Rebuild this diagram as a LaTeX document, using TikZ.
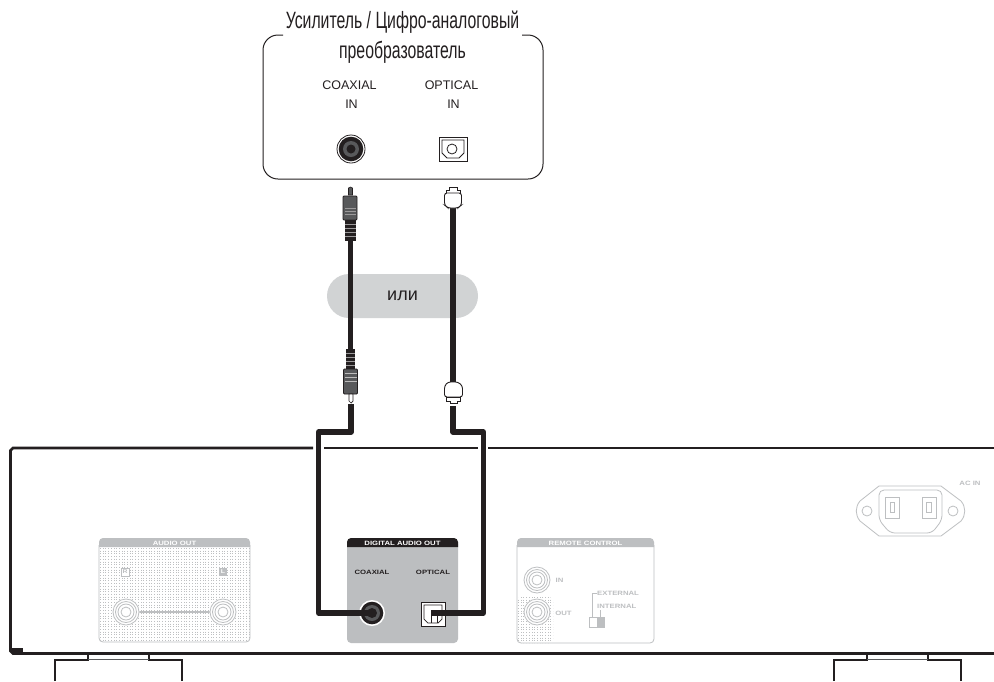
\documentclass[tikz,border=0pt]{standalone}
\usepackage{fontspec}
\setmainfont{Liberation Sans}
\newfontfamily\narrowfont[FakeStretch=0.67]{Liberation Sans}
\newfontfamily\widefont[FakeStretch=1.25]{Liberation Sans}
\definecolor{ink}{HTML}{231F20}
\definecolor{panelgray}{HTML}{BCBEC0}
\definecolor{softgray}{HTML}{D1D3D4}
\definecolor{faint}{HTML}{BDBFC1}
\definecolor{darkplug}{HTML}{58595B}
\tikzset{
  cablewire/.style={draw=ink,line width=5.4pt,line join=round},
  chassisline/.style={draw=ink,line width=2.6pt},
  footline/.style={draw=ink,line width=2pt},
  faintline/.style={draw=faint,line width=0.8pt},
  paneltitle/.style={font=\widefont\bfseries\fontsize{6.2}{6.2}\selectfont,text=white,inner sep=0pt},
  darklabel/.style={font=\widefont\bfseries\fontsize{6.2}{6.2}\selectfont,text=ink,inner sep=0pt},
  faintlabel/.style={font=\widefont\bfseries\fontsize{6.2}{6.2}\selectfont,text=faint,inner sep=0pt},
  inputlabel/.style={font=\fontsize{12.5}{12.5}\selectfont,text=ink,inner sep=0pt},
  titlelabel/.style={font=\narrowfont\fontsize{23.6}{23.6}\selectfont,text=ink,inner sep=0pt,anchor=base},
}
\begin{document}
\begin{tikzpicture}[x=1pt,y=-1pt,line cap=butt]
\useasboundingbox (0,0) rectangle (994,681);
\fill[white] (0,0) rectangle (994,681);

% --- receiver box
\draw[ink,line width=1pt,rounded corners=15pt] (283,35) -- (263,35) -- (263,179) -- (543,179) -- (543,35) -- (522,35);
\node[titlelabel] (titleone) at (402.5,28) {Усилитель / Цифро-аналоговый};
\node[titlelabel] (titletwo) at (402.5,58) {преобразователь};
\node[inputlabel] at (349.5,85) {COAXIAL};
\node[inputlabel] at (351.5,104) {IN};
\node[inputlabel] at (451.5,85) {OPTICAL};
\node[inputlabel] at (453.5,104) {IN};
% coaxial in jack
\coordinate (coaxin) at (351,149);
\draw[ink,line width=0.8pt] (coaxin) circle[radius=14];
\fill[ink] (coaxin) circle[radius=12.3];
\fill[darkplug] (coaxin) circle[radius=8];
\fill[ink] (coaxin) circle[radius=4.5];
% optical in jack
\draw[ink,line width=0.9pt] (439,137) rectangle (467,161);
\draw[ink,line width=0.8pt] (442,140) -- (464,140) -- (464,153) -- (459,158) -- (447,158) -- (442,153) -- cycle;
\draw[ink,line width=0.8pt] (452,149) circle[radius=5];

% --- "or" pill
\node[fill=softgray,rounded corners=22pt,minimum width=151pt,minimum height=44pt,inner sep=0pt,
      font=\fontsize{18}{18}\selectfont,text=ink] (orpill) at (402.5,296) {или};

% --- chassis
\draw[chassisline] (313,448) -- (13,448) -- (10.5,450.5) -- (10.5,651) -- (13,653.5) -- (994,653.5);
\draw[chassisline] (324,448) -- (478,448);
\draw[chassisline] (488,448) -- (994,448);
\fill[ink] (11,648) rectangle (23,653);
% feet
\draw[footline] (55,681) -- (55,659.5) -- (88,659.5) -- (88,653.5);
\draw[footline] (182,681) -- (182,659.5) -- (149,659.5) -- (149,653.5);
\draw[darkplug,line width=0.8pt] (88,659.5) -- (149,659.5);
\draw[footline] (834,681) -- (834,659.5) -- (867,659.5) -- (867,653.5);
\draw[footline] (961,681) -- (961,659.5) -- (928,659.5) -- (928,653.5);
\draw[darkplug,line width=0.8pt] (867,659.5) -- (928,659.5);

% --- audio out panel
\fill[faint] (99,547) [rounded corners=4pt] -- (99,538) -- (250,538) [sharp corners] -- (250,547) -- cycle;
\begin{scope}
\clip[rounded corners=4pt] (99,540) rectangle (250,642);
\foreach \i in {0,...,55}{\draw[faint,line width=1pt,dash pattern=on 1pt off 1.7pt] (100.5+\i*2.7,548) -- (100.5+\i*2.7,642);}
\end{scope}
\draw[faintline,rounded corners=4pt] (99,545) -- (99,642) -- (250,642) -- (250,545);
\node[paneltitle] at (174.5,543) {AUDIO OUT};
\node[fill=white,draw=faint,line width=0.8pt,minimum size=8pt,inner sep=0pt,font=\widefont\bfseries\fontsize{5.5}{5.5}\selectfont,text=faint] (rlabel) at (125,572) {R};
\node[fill=faint,minimum size=8pt,inner sep=0pt,font=\widefont\bfseries\fontsize{5.5}{5.5}\selectfont,text=white] (llabel) at (223,572) {L};
\draw[faint,line width=2pt] (126,612) -- (223,612);
\foreach \cx in {126,223}{
  \fill[white] (\cx,612) circle[radius=13.5];
  \draw[faintline] (\cx,612) circle[radius=13];
  \draw[faintline] (\cx,612) circle[radius=10.5];
  \draw[faintline] (\cx,612) circle[radius=8];
  \draw[faintline] (\cx,612) circle[radius=5];
}

% --- digital audio out panel
\fill[panelgray,rounded corners=4pt] (347,540) rectangle (458,643);
\fill[ink] (347,547) [rounded corners=4pt] -- (347,538) -- (458,538) [sharp corners] -- (458,547) -- cycle;
\node[paneltitle] at (402.5,543) {DIGITAL AUDIO OUT};
\node[darklabel] at (372,572) {COAXIAL};
\node[darklabel] at (433,572) {OPTICAL};
\coordinate (coaxout) at (372,613);
\fill[white] (coaxout) circle[radius=13];
\fill[ink] (coaxout) circle[radius=11.3];
\fill[darkplug] (coaxout) circle[radius=8];
\fill[ink] (coaxout) circle[radius=5];
\draw[ink,line width=0.9pt,fill=white] (421,602) rectangle (445,626);
\draw[ink,line width=0.7pt] (424,605) -- (442,605) -- (442,619) -- (438,623) -- (428,623) -- (424,619) -- cycle;
\draw[ink,line width=0.6pt] (431,613) -- (431,623) (437,613) -- (437,623);
\coordinate (optout) at (431,613);

% --- remote control panel
\fill[faint] (517,547) [rounded corners=4pt] -- (517,538) -- (654,538) [sharp corners] -- (654,547) -- cycle;
\begin{scope}
\clip[rounded corners=4pt] (517,597) rectangle (553,643);
\foreach \i in {0,...,13}{\draw[faint,line width=1pt,dash pattern=on 1pt off 1.7pt] (518.5+\i*2.7,597) -- (518.5+\i*2.7,643);}
\end{scope}
\draw[faintline,rounded corners=4pt] (517,545) -- (517,643) -- (654,643) -- (654,545);
\node[paneltitle] at (585.5,543) {REMOTE CONTROL};
\foreach \cy in {580,612}{
  \fill[white] (537,\cy) circle[radius=13.5];
  \draw[faintline] (537,\cy) circle[radius=13];
  \draw[faintline] (537,\cy) circle[radius=10.5];
  \draw[faintline] (537,\cy) circle[radius=8];
  \draw[faintline] (537,\cy) circle[radius=5];
}
\node[faintlabel] at (559.5,580) {IN};
\node[faintlabel] at (563.5,613) {OUT};
\node[faintlabel,anchor=west] (extlabel) at (597,593) {EXTERNAL};
\node[faintlabel,anchor=west] (intlabel) at (597,606) {INTERNAL};
\draw[faintline] (extlabel.west) -- (592,593) -- (592,617);
\draw[faintline] (600.5,610) -- (600.5,617);
\draw[faintline,fill=white] (589,617) rectangle (604,627);
\fill[faint] (597,617.5) rectangle (603.5,626.5);

% --- AC inlet
\node[faintlabel] at (970,483) {AC IN};
\draw[faintline,line join=round] (879,486) -- (941,486) -- (961,501) .. controls (966,507) and (966,515) .. (961,521) -- (941,536) -- (879,536) -- (860,521) .. controls (855,515) and (855,507) .. (860,501) -- cycle;
\draw[faintline,rounded corners=5pt] (879,490) -- (942,490) -- (942,520) -- (932,533) -- (890,533) -- (879,520) -- cycle;
\draw[faintline] (867,511) circle[radius=5];
\draw[faintline] (953,511) circle[radius=5];
\draw[faintline] (885,497) rectangle (899,518);
\draw[faintline] (890,502) rectangle (894,512);
\draw[faintline] (922,497) rectangle (936,518);
\draw[faintline] (926,502) rectangle (931,512);

% --- coaxial cable and plugs
\coordinate (rcaTopEnd) at (350.5,240);
\coordinate (rcaLowEnd) at (350.5,349);
\draw[cablewire] (rcaTopEnd) -- (rcaLowEnd);
\draw[cablewire] (351,404) -- (351,432) -- (318.5,432) -- (318.5,613) -- (coaxout);
% upper RCA
\filldraw[fill=darkplug,draw=ink,line width=0.6pt] (348.5,195) -- (348.5,188) -- (350.5,187) -- (352.5,188) -- (352.5,195) -- cycle;
\filldraw[fill=darkplug,draw=ink,line width=0.8pt,rounded corners=1pt] (343,196) rectangle (357,220);
\filldraw[fill=ink,draw=ink] (345.5,220) rectangle (355.5,240);
\foreach \yy in {208,211,214,224,228,232,236}{\draw[white!55!ink,line width=0.5pt] (345,\yy) -- (356,\yy);}
% lower RCA
\filldraw[fill=ink,draw=ink] (346,349) rectangle (354.5,369);
\foreach \yy in {353,357,361,365}{\draw[white!55!ink,line width=0.5pt] (346,\yy) -- (354.5,\yy);}
\filldraw[fill=darkplug,draw=ink,line width=0.8pt,rounded corners=1pt] (343.5,369) rectangle (357.5,394);
\foreach \yy in {373,377,381}{\draw[white!70!ink,line width=0.5pt] (344.5,\yy) -- (356.5,\yy);}
\filldraw[fill=white,draw=ink,line width=0.7pt] (349,394) -- (349,401) -- (351,403) -- (353,401) -- (353,394) -- cycle;

% --- optical cable and plugs
\coordinate (optTopEnd) at (453,208);
\coordinate (optLowEnd) at (453,382);
\draw[cablewire] (optTopEnd) -- (optLowEnd);
\draw[cablewire] (453,406) -- (453,432) -- (483.5,432) -- (483.5,613) -- (optout);
% upper optical plug
\filldraw[fill=white,draw=ink,line width=0.8pt] (449,187) -- (457,187) -- (457,190) -- (460,190) -- (460,194) -- (446,194) -- (446,190) -- (449,190) -- cycle;
\filldraw[fill=white,draw=ink,line width=0.9pt,rounded corners=2.5pt] (444.5,193) -- (461.5,193) -- (461.5,205) -- (458,208) -- (448,208) -- (444.5,205) -- cycle;
% lower optical plug
\filldraw[fill=white,draw=ink,line width=0.9pt,rounded corners=2.5pt] (448,382) -- (458,382) -- (462.5,386) -- (462.5,397) -- (444.5,397) -- (444.5,386) -- cycle;
\filldraw[fill=white,draw=ink,line width=0.8pt] (446.5,397) -- (460.5,397) -- (460.5,401) -- (457,401) -- (457,403.5) -- (450,403.5) -- (450,401) -- (446.5,401) -- cycle;
\end{tikzpicture}
\end{document}
